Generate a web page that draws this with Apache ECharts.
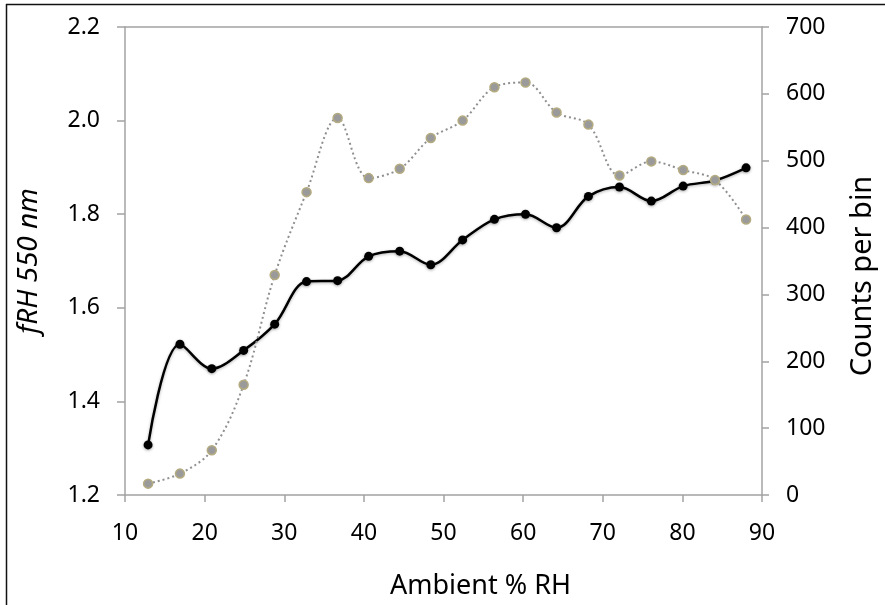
<!DOCTYPE html>
<html>
<head>
<meta charset="utf-8">
<title>fRH vs Ambient RH</title>
<script src="https://cdn.jsdelivr.net/npm/echarts@6/dist/echarts.min.js"></script>
<style>
  html, body { margin: 0; padding: 0; background: #fff; }
  #main { width: 885px; height: 605px; }
</style>
</head>
<body>
<div id="main"></div>
<script>
// bin centres (% RH)
var rhBins = [12.9, 16.9, 20.9, 24.9, 28.8, 32.8, 36.7, 40.6, 44.5, 48.4,
              52.4, 56.4, 60.3, 64.2, 68.2, 72.1, 76.1, 80.1, 84.1, 88.0];
// f(RH) at 550 nm
var fRH = [1.307, 1.522, 1.470, 1.509, 1.565, 1.656, 1.658, 1.710, 1.721, 1.692,
           1.745, 1.789, 1.800, 1.771, 1.838, 1.858, 1.828, 1.860, 1.872, 1.899];
// counts per bin
var counts = [17, 32, 67, 165, 329, 453, 564, 474, 488, 534,
              560, 610, 617, 572, 554, 478, 499, 486, 471, 412];

var xTicks = {min: 10, max: 90, interval: 10};
var leftTicks = {min: 1.2, max: 2.2, interval: 0.2};
var rightTicks = {min: 0, max: 700, interval: 100};

var axisGray = '#a3a3a3';
var font = 'Noto Sans';

function pairs(xs, ys) {
    var out = [];
    for (var i = 0; i < xs.length; i++) out.push([xs[i], ys[i]]);
    return out;
}

var myChart = echarts.init(document.getElementById('main'));
myChart.setOption({
    animation: false,
    textStyle: { fontFamily: font, color: '#000' },
    grid: { left: 125, right: 119, top: 27, bottom: 108 },
    xAxis: [{
        type: 'value',
        min: xTicks.min, max: xTicks.max, interval: xTicks.interval,
        name: 'Ambient % RH',
        nameLocation: 'middle',
        nameGap: 78,
        nameTextStyle: { fontSize: 27, color: '#000', fontFamily: font, padding: [0, 0, 0, 74] },
        axisLine: { show: true, lineStyle: { color: axisGray, width: 1.5 } },
        axisTick: { show: true, length: 7, lineStyle: { color: axisGray, width: 1.5 } },
        axisLabel: { fontSize: 23, color: '#000', margin: 27, fontFamily: font },
        splitLine: { show: false }
    }, {
        // top frame line of the plot area
        type: 'value', position: 'top',
        min: xTicks.min, max: xTicks.max,
        axisLine: { show: true, lineStyle: { color: axisGray, width: 1.5 } },
        axisTick: { show: false }, axisLabel: { show: false }, splitLine: { show: false }
    }],
    yAxis: [{
        type: 'value', position: 'left',
        min: leftTicks.min, max: leftTicks.max, interval: leftTicks.interval,
        name: 'fRH 550 nm',
        nameLocation: 'middle',
        nameGap: 82,
        nameTextStyle: { fontSize: 28, fontStyle: 'italic', color: '#000', fontFamily: font },
        axisLine: { show: true, lineStyle: { color: axisGray, width: 1.5 } },
        axisTick: { show: true, length: 8, lineStyle: { color: axisGray, width: 1.5 } },
        axisLabel: { fontSize: 23, color: '#000', margin: 25, fontFamily: font,
                     formatter: function (v) { return v.toFixed(1); } },
        splitLine: { show: false }
    }, {
        type: 'value', position: 'right',
        min: rightTicks.min, max: rightTicks.max, interval: rightTicks.interval,
        name: 'Counts per bin',
        nameLocation: 'middle',
        nameGap: 86,
        nameTextStyle: { fontSize: 29, color: '#000', fontFamily: font, padding: [0, 30, 0, 0] },
        axisLine: { show: true, lineStyle: { color: axisGray, width: 1.5 } },
        axisTick: { show: true, length: 7, lineStyle: { color: axisGray, width: 1.5 } },
        axisLabel: { fontSize: 23, color: '#000', margin: 24, fontFamily: font },
        splitLine: { show: false }
    }],
    graphic: [
        { type: 'line', shape: { x1: 6, y1: 4.5, x2: 885, y2: 4.5 },
          style: { stroke: '#111', lineWidth: 1.5 } },
        { type: 'line', shape: { x1: 6.5, y1: 4, x2: 6.5, y2: 605 },
          style: { stroke: '#111', lineWidth: 1.5 } }
    ],
    series: [{
        name: 'fRH',
        type: 'line',
        xAxisIndex: 0, yAxisIndex: 0,
        data: pairs(rhBins, fRH),
        smooth: 0.35,
        symbol: 'circle',
        symbolSize: 9,
        itemStyle: { color: '#000', shadowColor: 'rgba(0,0,0,0.35)', shadowBlur: 3, shadowOffsetY: 1 },
        lineStyle: { color: '#000', width: 2.5, shadowColor: 'rgba(0,0,0,0.3)', shadowBlur: 3, shadowOffsetY: 1 }
    }, {
        name: 'Counts',
        type: 'line',
        xAxisIndex: 0, yAxisIndex: 1,
        data: pairs(rhBins, counts),
        smooth: 0.35,
        symbol: 'circle',
        symbolSize: 9,
        itemStyle: { color: '#9a9a9a', borderColor: '#b4ab80', borderWidth: 1.5 },
        lineStyle: { color: '#8f8f8f', width: 2, type: [2, 3] }
    }]
});
</script>
</body>
</html>
